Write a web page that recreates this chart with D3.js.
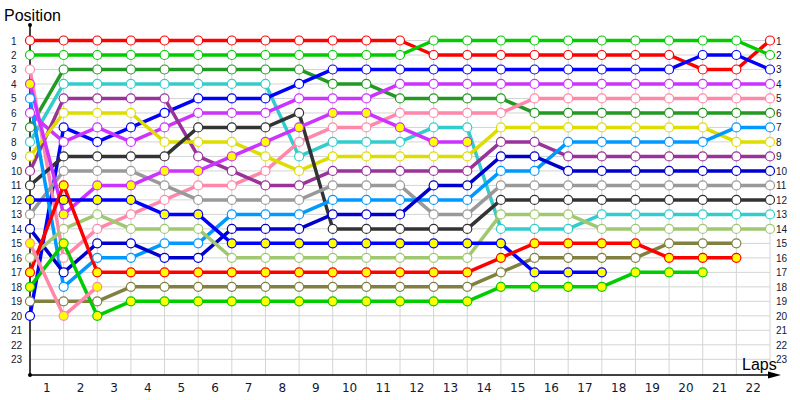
<!DOCTYPE html>
<html>
<head>
<meta charset="utf-8">
<script src="https://cdn.jsdelivr.net/npm/d3@7"></script>
<style>
    body { margin: 0; background: #fff; }
    text { font-family: "Liberation Sans", "DejaVu Sans", sans-serif; }
</style>
</head>
<body>
<svg id="chart" width="800" height="400"></svg>
<script>
// lap tick labels (shown between the lap grid lines) and position labels
const lapLabels = ["1","2","3","4","5","6","7","8","9","10","11","12","13","14","15","16","17","18","19","20","21","22"];
const positionLabels = [1,2,3,4,5,6,7,8,9,10,11,12,13,14,15,16,17,18,19,20,21,22,23];

// position of every car at lap 0..22 (array ends when the car retires)
const redPos        = [1,1,1,1,1,1,1,1,1,1,1,1,2,2,2,2,2,2,2,2,3,3,1];
const greenPos      = [2,2,2,2,2,2,2,2,2,2,2,2,1,1,1,1,1,1,1,1,1,1,2];
const darkGreenPos  = [7,3,3,3,3,3,3,3,3,4,4,5,5,5,5,6,6,6,6,6,6,6,6];
const cyanPos       = [8,4,4,4,4,4,4,4,9,8,8,8,7,7,14,14,14,13,13,13,13,13,13];
const bluePos       = [20,7,8,7,6,5,5,5,4,3,3,3,3,3,3,3,3,3,3,3,2,2,3];
const violetPos     = [6,8,7,8,7,6,6,6,5,5,5,4,4,4,4,4,4,4,4,4,4,4,4];
const pinkPos       = [3,16,14,13,12,11,11,10,8,7,7,6,6,6,6,5,5,5,5,5,5,5,5];
const purplePos     = [10,5,5,5,5,9,10,11,11,10,10,10,10,10,8,8,9,9,9,9,9,9,9];
const yellowPos     = [9,6,6,6,8,8,8,9,10,9,9,9,9,9,7,7,7,7,7,7,7,8,8];
const darkGrayPos   = [11,9,9,9,9,7,7,7,6,14,14,14,14,14,12,12,12,12,12,12,12,12,12];
const grayPos       = [13,10,10,10,11,12,12,12,12,11,11,11,13,13,11,11,11,11,11,11,11,11,11];
const lightBluePos  = [5,18,16,16,15,15,13,13,13,12,12,12,12,12,10,10,8,8,8,8,8,7,7];
const navyPos       = [14,17,15,15,16,16,14,14,14,13,13,13,11,11,9,9,10,10,10,10,10,10,10];
const limePos       = [16,14,13,14,14,14,16,16,16,16,16,16,16,16,13,13,13,14,14,14,14,14,14];
const olivePos      = [19,19,19,18,18,18,18,18,18,18,18,18,18,18,17,16,16,16,16,15,15,15];
const violet2Pos    = [4,13,11,11,10,10,9,8,7,6,6,7,8,8];
const blue2Pos      = [12,12,12,12,13,13,15,15,15,15,15,15,15,15,15,17,17,17];
const red2Pos       = [17,11,17,17,17,17,17,17,17,17,17,17,17,17,16,15,15,15,15,16,16,16];
const green2Pos     = [18,15,20,19,19,19,19,19,19,19,19,19,19,19,18,18,18,18,17,17,17];
const pink2Pos      = [15,20,18];

const seriesPositions = [redPos, greenPos, darkGreenPos, cyanPos, bluePos, violetPos, pinkPos,
    purplePos, yellowPos, darkGrayPos, grayPos, lightBluePos, navyPos, limePos, olivePos,
    violet2Pos, blue2Pos, red2Pos, green2Pos, pink2Pos];
const seriesColors = ["#ff0000","#00cc00","#229922","#33cccc","#0000ff","#cc33ff","#ff88aa",
    "#993399","#dddd00","#333333","#999999","#0099ff","#0000cc","#a0c870","#808040",
    "#cc33ff","#0000ff","#ff0000","#00cc00","#ff88aa"];
// second use of a colour gets yellow markers
const seriesFilled = [false,false,false,false,false,false,false,false,false,false,false,false,false,false,false,
    true,true,true,true,true];

const width = 800, height = 400;
const svg = d3.select("#chart");

const x = d3.scaleLinear().domain([0, 22]).range([30, 770]);
const y = d3.scaleLinear().domain([1, 23]).range([40.5, 359.3]);
const xBand = d3.scaleBand().domain(lapLabels).range([30, 770]);
const axisY = 375;

// grid
svg.append("g").selectAll("line.h")
    .data(positionLabels)
    .enter().append("line")
    .attr("x1", 30).attr("x2", 770)
    .attr("y1", d => y(d)).attr("y2", d => y(d))
    .attr("stroke", "#d4d4d4").attr("stroke-width", 1);

svg.append("g").selectAll("line.v")
    .data(lapLabels)
    .enter().append("line")
    .attr("x1", (d, i) => x(i + 1)).attr("x2", (d, i) => x(i + 1))
    .attr("y1", y(1)).attr("y2", axisY)
    .attr("stroke", "#d4d4d4").attr("stroke-width", 1);

// position labels left and right
const leftAxis = svg.append("g")
    .attr("transform", "translate(11,0)")
    .call(d3.axisLeft(y).tickValues(positionLabels).tickSize(0).tickPadding(0));
leftAxis.select(".domain").remove();
leftAxis.selectAll("text").attr("text-anchor", "start").attr("dy", "0.35em")
    .attr("font-size", 10).attr("fill", "#101838")
    .style("font-family", "'Liberation Sans', sans-serif");

const rightAxis = svg.append("g")
    .attr("transform", "translate(776,0)")
    .call(d3.axisRight(y).tickValues(positionLabels).tickSize(0).tickPadding(0));
rightAxis.select(".domain").remove();
rightAxis.selectAll("text").attr("font-size", 10).attr("dy", "0.35em").attr("fill", "#101838")
    .style("font-family", "'Liberation Sans', sans-serif");

const bottomAxis = svg.append("g")
    .attr("transform", `translate(0,${axisY})`)
    .call(d3.axisBottom(xBand).tickSize(0).tickPadding(8));
bottomAxis.select(".domain").remove();
bottomAxis.selectAll("text").attr("font-size", 12).attr("fill", "#101838")
    .style("font-family", "'DejaVu Sans', sans-serif");

// axis lines
svg.append("line")
    .attr("x1", 30).attr("x2", 30).attr("y1", 25).attr("y2", axisY)
    .attr("stroke", "#000").attr("stroke-width", 1.5);
svg.append("line")
    .attr("x1", 30).attr("x2", 772).attr("y1", axisY).attr("y2", axisY)
    .attr("stroke", "#000").attr("stroke-width", 1.5);
svg.append("circle").attr("cx", 30).attr("cy", 25).attr("r", 2).attr("fill", "#000");
svg.append("circle").attr("cx", 30).attr("cy", axisY).attr("r", 2).attr("fill", "#000");
svg.append("path")
    .attr("d", `M768,${axisY - 3.5}L781,${axisY}L768,${axisY + 3.5}Z`)
    .attr("fill", "#000");

svg.append("text").attr("x", 4).attr("y", 21)
    .attr("font-size", 16).attr("fill", "#000").text("Position");
svg.append("text").attr("x", 742).attr("y", 370)
    .attr("font-size", 16).attr("fill", "#000").text("Laps");

// lines
const line = d3.line()
    .x((d, i) => x(i))
    .y(d => y(d));

svg.append("g").selectAll("path.series")
    .data(seriesPositions)
    .enter().append("path")
    .attr("d", d => line(d))
    .attr("fill", "none")
    .attr("stroke", (d, i) => seriesColors[i])
    .attr("stroke-width", 3.5)
    .attr("stroke-linejoin", "round");

// markers
seriesPositions.forEach((positions, s) => {
    svg.append("g").selectAll("circle")
        .data(positions)
        .enter().append("circle")
        .attr("cx", (d, i) => x(i))
        .attr("cy", d => y(d))
        .attr("r", 4.5)
        .attr("fill", seriesFilled[s] ? "#ffff00" : "#fff")
        .attr("stroke", seriesColors[s])
        .attr("stroke-width", 1.2);
});
</script>
</body>
</html>
